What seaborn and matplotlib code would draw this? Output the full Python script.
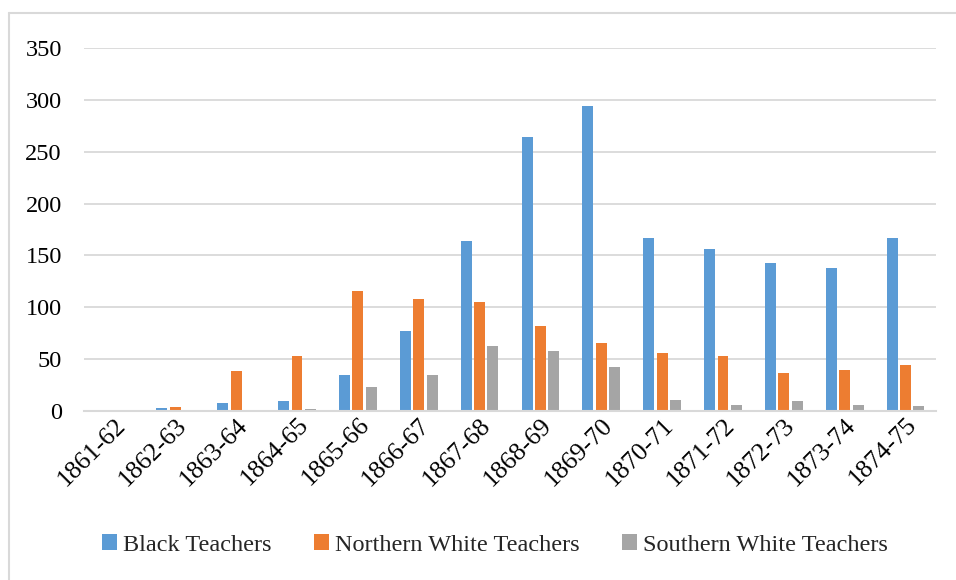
import matplotlib
matplotlib.use("Agg")
import matplotlib.pyplot as plt
from matplotlib.lines import Line2D
from matplotlib.patches import Patch
import seaborn as sns
import pandas as pd

# School years and teacher counts by group
years = ["1861-62", "1862-63", "1863-64", "1864-65", "1865-66", "1866-67", "1867-68",
         "1868-69", "1869-70", "1870-71", "1871-72", "1872-73", "1873-74", "1874-75"]
black_teachers = [0, 3, 8, 10, 35, 77, 164, 264, 294, 167, 156, 143, 138, 167]
northern_white = [0, 4, 39, 53, 116, 108, 105, 82, 66, 56, 53, 37, 40, 44]
southern_white = [0, 0, 0, 2, 23, 35, 63, 58, 42, 11, 6, 10, 6, 5]

series_names = ["Black Teachers", "Northern White Teachers", "Southern White Teachers"]
series_colors = ["#5B9BD5", "#ED7D31", "#A5A5A5"]
y_ticks = [0, 50, 100, 150, 200, 250, 300, 350]

df = pd.DataFrame({
    "Year": years * 3,
    "Teachers": black_teachers + northern_white + southern_white,
    "Group": [series_names[0]] * len(years) + [series_names[1]] * len(years)
             + [series_names[2]] * len(years),
})

sns.set_theme(style="white")
plt.rcParams["font.family"] = ["Liberation Serif", "DejaVu Serif"]

fig = plt.figure(figsize=(9.56, 5.8), dpi=100)
ax = fig.add_axes([84 / 956, 1 - 411 / 580, (936 - 84) / 956, (411 - 48) / 580])

sns.barplot(data=df, x="Year", y="Teachers", hue="Group", hue_order=series_names,
            palette=series_colors, width=0.66, gap=0.18, ax=ax, legend=False,
            saturation=1, linewidth=0)

ax.set_ylim(0, 350)
ax.set_xlim(-0.5, len(years) - 0.5)
ax.set_yticks(y_ticks)
ax.set_yticklabels([str(v) for v in y_ticks], fontsize=17.5, color="#000000")
ax.set_xticks(range(len(years)))
ax.set_xticklabels(years, fontsize=18.5, rotation=45, ha="right",
                   rotation_mode="anchor", color="#000000")
ax.tick_params(axis="both", length=0)
ax.tick_params(axis="y", pad=16)
ax.tick_params(axis="x", pad=2)
ax.set_xlabel("")
ax.set_ylabel("")

ax.yaxis.grid(True, color="#D9D9D9", linewidth=1.3)
ax.set_axisbelow(True)
for s in ["top", "right", "left"]:
    ax.spines[s].set_visible(False)
ax.spines["bottom"].set_color("#D9D9D9")
ax.spines["bottom"].set_linewidth(1.5)

handles = [Patch(facecolor=c, edgecolor="none", label=n)
           for n, c in zip(series_names, series_colors)]
fig.legend(handles=handles, loc="center", bbox_to_anchor=(495 / 956, 1 - 545 / 580),
           ncol=3, frameon=False, fontsize=17.5, handlelength=0.6, handleheight=0.6,
           handletextpad=0.25, columnspacing=1.75)

# Light chart-area frame
fig.add_artist(Line2D([9 / 956, 1.0], [1 - 13 / 580, 1 - 13 / 580],
                      transform=fig.transFigure, color="#D9D9D9", linewidth=1.5))
fig.add_artist(Line2D([9 / 956, 9 / 956], [0.0, 1 - 13 / 580],
                      transform=fig.transFigure, color="#D9D9D9", linewidth=1.5))

fig.savefig("out.png", dpi=100, facecolor="white")
